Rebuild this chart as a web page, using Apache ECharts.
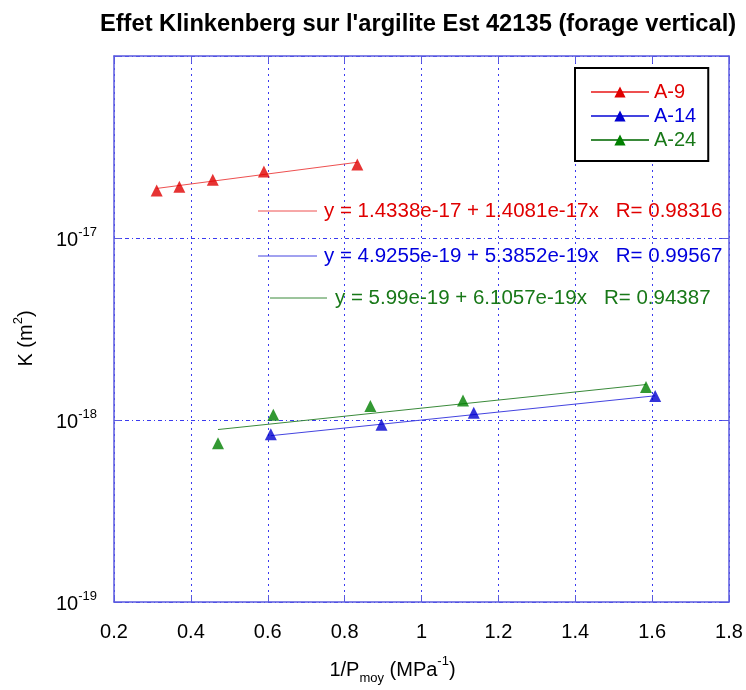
<!DOCTYPE html>
<html>
<head>
<meta charset="utf-8">
<script src="https://cdn.jsdelivr.net/npm/echarts@6/dist/echarts.min.js"></script>
<style>html,body{margin:0;padding:0;background:#fff;}#c{width:746px;height:690px;}</style>
</head>
<body>
<div id="c"></div>
<script>
// ---- data ----
const seriesNames = ['A-9', 'A-14', 'A-24'];
const A9_x  = [0.311, 0.370, 0.457, 0.590, 0.833];
const A9_y  = [1.826e-17, 1.914e-17, 2.091e-17, 2.319e-17, 2.538e-17];
const A14_x = [0.608, 0.896, 1.136, 1.608];
const A14_y = [0.834e-18, 0.942e-18, 1.097e-18, 1.355e-18];
const A24_x = [0.4706, 0.6145, 0.867, 1.108, 1.584];
const A24_y = [0.744e-18, 1.067e-18, 1.195e-18, 1.281e-18, 1.518e-18];
// linear fit end points (from the printed fit equations)
const A9_fit_x  = [0.311, 0.833];
const A9_fit_y  = [1.8717e-17, 2.6068e-17];
const A14_fit_x = [0.608, 1.608];
const A14_fit_y = [0.81997e-18, 1.35849e-18];
const A24_fit_x = [0.4706, 1.584];
const A24_fit_y = [0.88632e-18, 1.56610e-18];
const fitLabels = [
  'y = 1.4338e-17 + 1.4081e-17x   R= 0.98316',
  'y = 4.9255e-19 + 5.3852e-19x   R= 0.99567',
  'y = 5.99e-19 + 6.1057e-19x   R= 0.94387'
];
const xTicks = [0.2, 0.4, 0.6, 0.8, 1.0, 1.2, 1.4, 1.6, 1.8];

const pointColors = ['#e00000', '#0000d0', '#008000'];
const lineColors  = ['#ee5050', '#4444e0', '#3a8a3a'];
const textColors  = ['#e00000', '#0000dd', '#187818'];

const zip = (xs, ys) => xs.map((x, i) => [x, ys[i]]);
const pts = [zip(A9_x, A9_y), zip(A14_x, A14_y), zip(A24_x, A24_y)];
const fits = [zip(A9_fit_x, A9_fit_y), zip(A14_fit_x, A14_fit_y), zip(A24_fit_x, A24_fit_y)];

const FONT = 'Liberation Sans, Arial, sans-serif';
const frame = '#5a5ae0';
const gridCol = '#3a3af0';

const series = [];
seriesNames.forEach((n, i) => {
  series.push({
    name: n, type: 'line', data: fits[i], symbol: 'triangle', showSymbol: false,
    itemStyle: { color: pointColors[i] },
    lineStyle: { color: lineColors[i], width: 1 },
    emphasis: { disabled: true }, silent: true, z: 3
  });
});
seriesNames.forEach((n, i) => {
  series.push({
    name: n, type: 'scatter', data: pts[i], symbol: 'triangle', symbolSize: 12,
    itemStyle: { color: pointColors[i] }, z: 4
  });
});

const graphics = [];
const eqPos = [
  { lx1: 258, lx2: 317, y: 211, tx: 324 },
  { lx1: 258, lx2: 317, y: 256, tx: 324 },
  { lx1: 270, lx2: 327, y: 298, tx: 335 }
];
eqPos.forEach((p, i) => {
  graphics.push({ type: 'line', shape: { x1: p.lx1, y1: p.y, x2: p.lx2, y2: p.y },
    style: { stroke: lineColors[i], lineWidth: 1 }, z: 10 });
  graphics.push({ type: 'text', x: p.tx, y: p.y,
    style: { text: fitLabels[i], fill: textColors[i], font: '20.5px ' + FONT, textVerticalAlign: 'middle' }, z: 10 });
});

const supExp = v => {
  const e = Math.round(Math.log10(v));
  if (e === -16) return '';
  return '{b|10}{s|' + e + '}';
};

const option = {
  animation: false,
  backgroundColor: '#fff',
  title: {
    text: "Effet Klinkenberg sur l'argilite Est 42135 (forage vertical)",
    left: 413, top: 7, textAlign: 'center',
    textStyle: { fontFamily: FONT, fontSize: 23.7, fontWeight: 'bold', color: '#000' }
  },
  legend: {
    orient: 'vertical', left: 575, top: 68,
    padding: [14, 12, 11, 15], itemGap: 4, itemWidth: 58, itemHeight: 14,
    borderColor: '#000', borderWidth: 2, backgroundColor: '#fff',
    data: seriesNames.map((n, i) => ({ name: n, textStyle: { color: textColors[i] } })),
    textStyle: { fontFamily: FONT, fontSize: 20 }
  },
  grid: { left: 114, right: 17, top: 56, bottom: 87, containLabel: false },
  xAxis: [{
    type: 'value', min: 0.2, max: 1.8, interval: 0.2, position: 'bottom',
    axisLine: { show: true, lineStyle: { color: frame, width: 1.5 } },
    axisTick: { show: true, inside: true, length: 7, lineStyle: { color: frame } },
    axisLabel: { color: '#000', fontFamily: FONT, fontSize: 20, margin: 20,
      formatter: v => { const t = xTicks.find(q => Math.abs(q - v) < 1e-9); return t === undefined ? '' : String(+t.toFixed(1)); } },
    splitLine: { show: true, lineStyle: { color: gridCol, type: [2, 4], width: 1 } },
    name: '{a|1/P}{sub|moy}{a| (MPa}{sup|-1}{a|)}',
    nameLocation: 'middle', nameGap: 53,
    nameTextStyle: {
      padding: [0, 58, 0, 0],
      rich: {
        a: { fontFamily: FONT, fontSize: 20, color: '#000', lineHeight: 30, verticalAlign: 'middle' },
        sub: { fontFamily: FONT, fontSize: 13, color: '#000', lineHeight: 14, verticalAlign: 'bottom' },
        sup: { fontFamily: FONT, fontSize: 13, color: '#000', lineHeight: 18, verticalAlign: 'top' }
      }
    }
  }, {
    type: 'value', min: 0.2, max: 1.8, interval: 0.2, position: 'top',
    axisLine: { show: true, lineStyle: { color: frame, width: 1.5 } },
    axisTick: { show: true, inside: true, length: 7, lineStyle: { color: frame } },
    axisLabel: { show: false }, splitLine: { show: false }
  }],
  yAxis: [{
    type: 'log', logBase: 10, min: 1e-19, max: 1e-16, position: 'left',
    axisLine: { show: true, lineStyle: { color: frame, width: 1.5 } },
    axisTick: { show: true, inside: true, length: 7, lineStyle: { color: frame } },
    minorTick: { show: false },
    axisLabel: { formatter: supExp, margin: 17,
      rich: {
        b: { fontFamily: FONT, fontSize: 20, color: '#000', lineHeight: 24, verticalAlign: 'bottom' },
        s: { fontFamily: FONT, fontSize: 13, color: '#000', lineHeight: 16, verticalAlign: 'top' }
      } },
    splitLine: { show: true, lineStyle: { color: gridCol, type: [4, 3, 1, 3], width: 1 } },
    name: '{a|K (m}{sup|2}{a|)}',
    nameLocation: 'middle', nameGap: 74, nameRotate: 90,
    nameTextStyle: {
      padding: [0, 19, 0, 0],
      rich: {
        a: { fontFamily: FONT, fontSize: 20, color: '#000', lineHeight: 28, verticalAlign: 'middle' },
        sup: { fontFamily: FONT, fontSize: 13, color: '#000', lineHeight: 16, verticalAlign: 'top' }
      }
    }
  }, {
    type: 'log', logBase: 10, min: 1e-19, max: 1e-16, position: 'right',
    axisLine: { show: true, lineStyle: { color: frame, width: 1.5 } },
    axisTick: { show: true, inside: true, length: 7, lineStyle: { color: frame } },
    axisLabel: { show: false }, splitLine: { show: false }
  }],
  graphic: graphics,
  series: series
};

const chart = echarts.init(document.getElementById('c'), null, { renderer: 'canvas' });
chart.setOption(option);
</script>
</body>
</html>
